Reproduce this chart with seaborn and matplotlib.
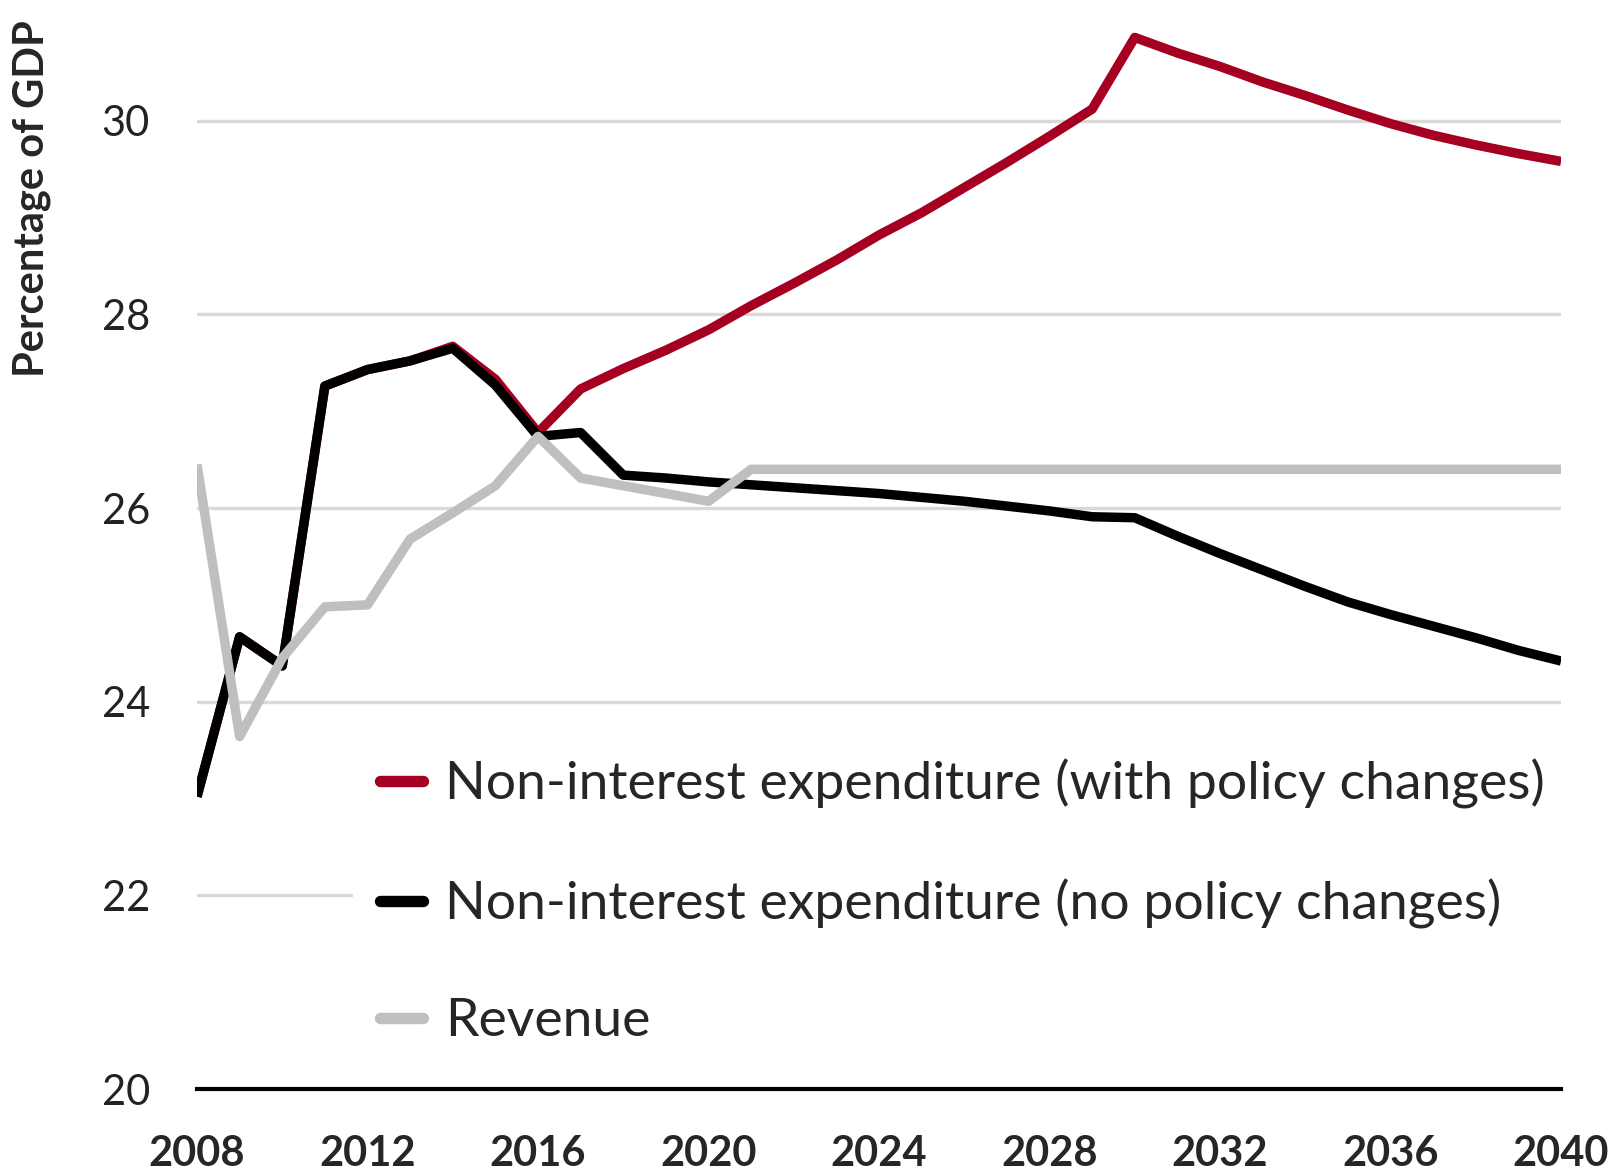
import matplotlib
matplotlib.use("Agg")
import matplotlib.pyplot as plt
import seaborn as sns
import pandas as pd

years = list(range(2008, 2041))
with_policy = [23.02, 24.67, 24.37, 27.26, 27.43, 27.52, 27.67, 27.33, 26.78, 27.23,
               27.44, 27.63, 27.84, 28.09, 28.32, 28.56, 28.82, 29.05, 29.31, 29.57,
               29.84, 30.12, 30.86, 30.70, 30.56, 30.40, 30.26, 30.11, 29.97, 29.85,
               29.75, 29.66, 29.58]
no_policy = [23.02, 24.67, 24.37, 27.26, 27.43, 27.52, 27.65, 27.27, 26.74, 26.78,
             26.34, 26.31, 26.27, 26.24, 26.21, 26.18, 26.15, 26.11, 26.07, 26.02,
             25.97, 25.91, 25.90, 25.71, 25.53, 25.36, 25.19, 25.03, 24.90, 24.78,
             24.66, 24.53, 24.42]
revenue = [26.45, 23.64, 24.45, 24.98, 25.00, 25.68, 25.95, 26.23, 26.74, 26.31,
           26.23, 26.15, 26.07, 26.40, 26.40, 26.40, 26.40, 26.40, 26.40, 26.40,
           26.40, 26.40, 26.40, 26.40, 26.40, 26.40, 26.40, 26.40, 26.40, 26.40,
           26.40, 26.40, 26.40]
series_names = ["Non-interest expenditure (with policy changes)",
                "Non-interest expenditure (no policy changes)",
                "Revenue"]
x_ticks = list(range(2008, 2041, 4))
y_ticks = [20, 22, 24, 26, 28, 30]

sns.set_theme(style="white")
plt.rcParams['font.family'] = ['Lato', 'DejaVu Sans']

fig = plt.figure(figsize=(16.16, 11.71), dpi=100)
ax = fig.add_axes([0.1219, 0.070, 0.8441, 0.9096])

colors = ["#a50021", "#000000", "#bfbfbf"]
for vals, name, c, z in zip([with_policy, no_policy, revenue], series_names, colors, [3, 4, 5]):
    df = pd.DataFrame({"Year": years, "Value": vals})
    sns.lineplot(data=df, x="Year", y="Value", ax=ax, color=c, linewidth=6.8,
                 label=name, zorder=z, solid_joinstyle='round', solid_capstyle='butt')

ax.set_xlim(2008, 2040)
ax.set_ylim(20, 31)
ax.set_xticks(x_ticks)
ax.set_yticks(y_ticks)
ax.set_xticklabels([str(t) for t in x_ticks], fontweight='bold', fontsize=30)
ax.set_yticklabels([str(t) for t in y_ticks], fontsize=30, color='#222222')
ax.tick_params(axis='both', length=0)
ax.tick_params(axis='y', pad=34)
ax.tick_params(axis='x', pad=33)
ax.yaxis.grid(True, color='#d9d9d9', linewidth=2.4, zorder=0)
ax.xaxis.grid(False)
for s in ['top', 'right', 'left']:
    ax.spines[s].set_visible(False)
ax.spines['bottom'].set_color('black')
ax.spines['bottom'].set_linewidth(3)
ax.spines['bottom'].set_zorder(12)
ax.set_xlabel("")
ax.set_ylabel("Percentage of GDP", fontweight='bold', fontsize=30, loc='top')
ax.yaxis.set_label_coords(-0.107, 1.0036)

leg = ax.legend(loc='upper left', bbox_to_anchor=(0.095, 0.3601), frameon=True,
                facecolor='white', edgecolor='none', framealpha=1, fontsize=38.5,
                handlelength=0.8, handletextpad=0.42, labelspacing=1.30,
                borderpad=0.5)
for h in leg.get_lines():
    h.set_linewidth(8.2)
    h.set_solid_capstyle('round')
leg.set_zorder(10)

fig.savefig("out.png", dpi=100, facecolor='white')
